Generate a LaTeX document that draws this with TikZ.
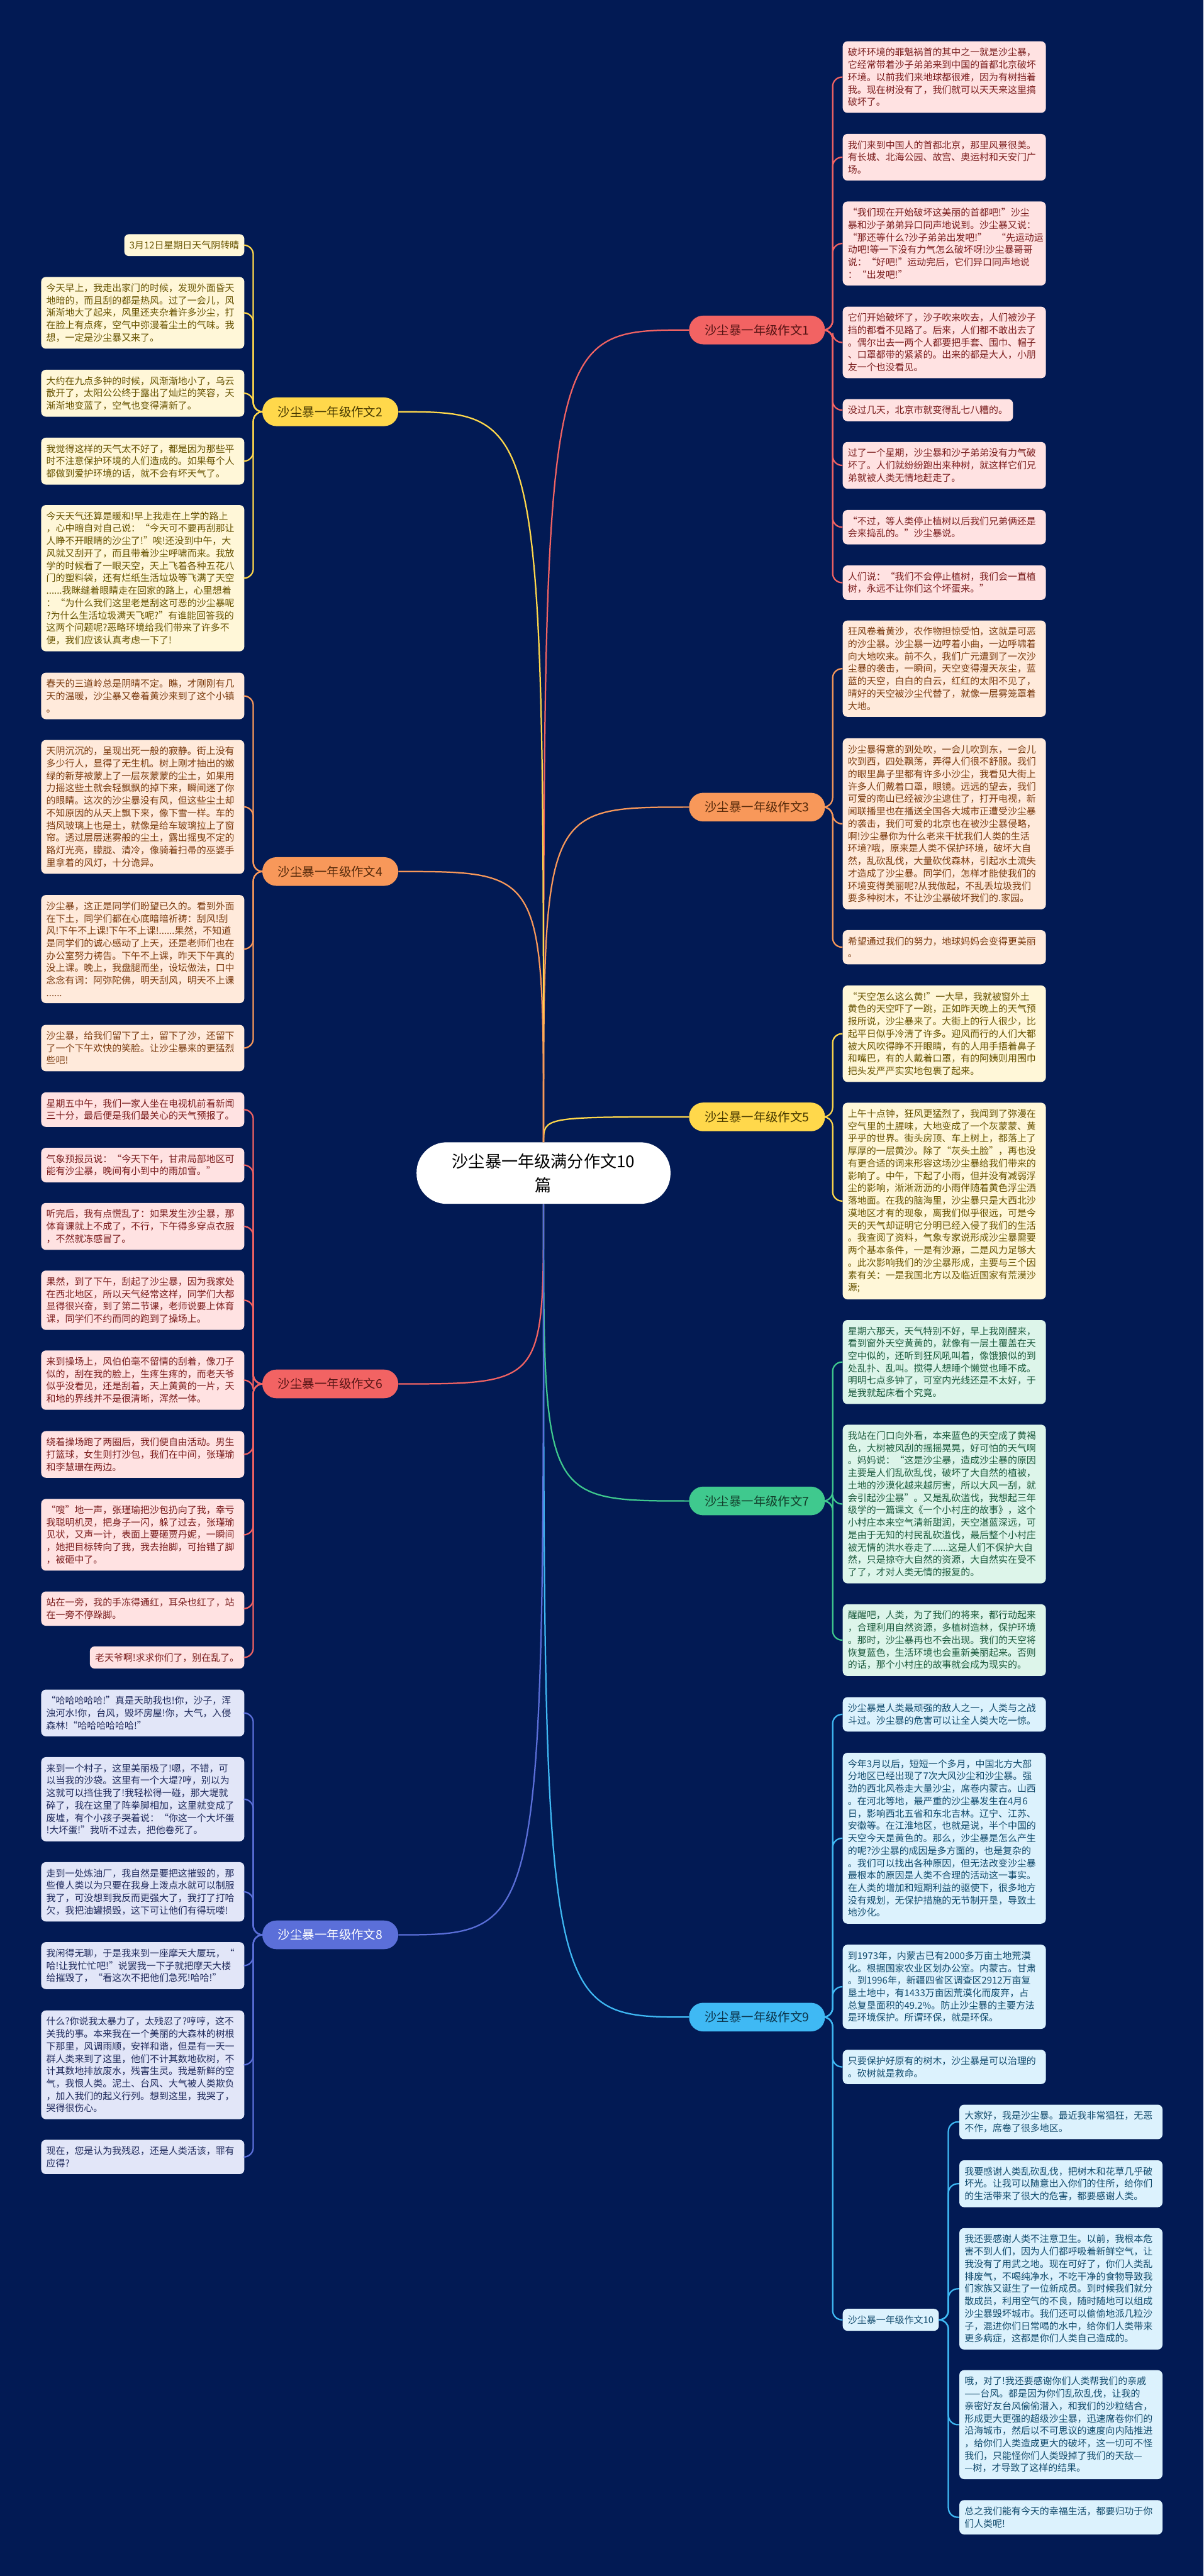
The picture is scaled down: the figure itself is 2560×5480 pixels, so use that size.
\documentclass[tikz,border=0pt]{standalone}
\usepackage{fontspec}
\newfontfamily\cjk{Noto Sans CJK SC}
\definecolor{bg}{HTML}{021A54}
\definecolor{redC}{HTML}{F26363}\definecolor{redL}{HTML}{FFE2E2}\definecolor{redT}{HTML}{7A1C1C}
\definecolor{yelC}{HTML}{FFD84B}\definecolor{yelL}{HTML}{FFF7D8}\definecolor{yelT}{HTML}{665200}
\definecolor{oraC}{HTML}{F8985A}\definecolor{oraL}{HTML}{FFEADB}\definecolor{oraT}{HTML}{7A3A0E}
\definecolor{grnC}{HTML}{3FC98E}\definecolor{grnL}{HTML}{DDF5EA}\definecolor{grnT}{HTML}{1B5A3D}
\definecolor{indC}{HTML}{5B6FD9}\definecolor{indL}{HTML}{E2E6F8}\definecolor{indT}{HTML}{1F2A5C}
\definecolor{bluC}{HTML}{3FB9F4}\definecolor{bluL}{HTML}{DCF2FD}\definecolor{bluT}{HTML}{104A6C}
\newcommand{\leaffont}{\cjk\fontsize{10pt}{13.2pt}\selectfont}
\tikzset{
 leaf/.style={rounded corners=5pt, inner xsep=5.5pt, inner ysep=7pt, align=left, font=\leaffont},
 wide/.style={text width=205pt},
 lr/.style={leaf, fill=redL, text=redT},
 ly/.style={leaf, fill=yelL, text=yelT},
 lo/.style={leaf, fill=oraL, text=oraT},
 lg/.style={leaf, fill=grnL, text=grnT},
 li/.style={leaf, fill=indL, text=indT},
 lb/.style={leaf, fill=bluL, text=bluT},
 topic/.style={rounded corners=15pt, minimum width=144.5pt, minimum height=30.5pt, inner sep=2pt,
   font=\cjk\fontsize{13pt}{15pt}\selectfont},
 conn/.style={line width=1.5pt, rounded corners=10pt},
 branch/.style={line width=1.5pt},
}
\begin{document}
\begin{tikzpicture}[x=0.5pt,y=-0.5pt]
\useasboundingbox (0,0) rectangle (2560,5480);
\fill[bg] (0,0) rectangle (2560,5480);

% root
\node[fill=white, rounded corners=32pt, minimum width=270pt, minimum height=65.5pt, align=center,
  font=\cjk\fontsize{17.5pt}{25.5pt}\selectfont, text=black] (root) at (1156,2495.5) {沙尘暴一年级满分作文10\\篇};

% topics right
\node[topic, fill=redC, text=redT!70!black] (e1) at (1610,702) {沙尘暴一年级作文1};
\node[topic, fill=oraC, text=oraT!70!black] (e3) at (1610,1717) {沙尘暴一年级作文3};
\node[topic, fill=yelC, text=yelT!70!black] (e5) at (1610,2376) {沙尘暴一年级作文5};
\node[topic, fill=grnC, text=grnT!70!black] (e7) at (1610,3193) {沙尘暴一年级作文7};
\node[topic, fill=bluC, text=bluT!70!black] (e9) at (1610,4291) {沙尘暴一年级作文9};
% topics left
\node[topic, fill=yelC, text=yelT!70!black] (e2) at (702.5,876) {沙尘暴一年级作文2};
\node[topic, fill=oraC, text=oraT!70!black] (e4) at (702.5,1854) {沙尘暴一年级作文4};
\node[topic, fill=redC, text=redT!70!black] (e6) at (702.5,2944) {沙尘暴一年级作文6};
\node[topic, fill=indC, text=white] (e8) at (702.5,4116) {沙尘暴一年级作文8};

% E1 leaves
\node[lr,wide,anchor=west] (a1) at (1792,164) {破坏环境的罪魁祸首的其中之一就是沙尘暴，\\它经常带着沙子弟弟来到中国的首都北京破坏\\环境。以前我们来地球都很难，因为有树挡着\\我。现在树没有了，我们就可以天天来这里搞\\破坏了。};
\node[lr,wide,anchor=west] (a2) at (1792,334.5) {我们来到中国人的首都北京，那里风景很美。\\有长城、北海公园、故宫、奥运村和天安门广\\场。};
\node[lr,wide,anchor=west] (a3) at (1792,518) {“我们现在开始破坏这美丽的首都吧!”沙尘\\暴和沙子弟弟异口同声地说到。沙尘暴又说：\\“那还等什么?沙子弟弟出发吧!”　“先运动运\\动吧!等一下没有力气怎么破坏呀!沙尘暴哥哥\\说：“好吧!”运动完后，它们异口同声地说\\：“出发吧!”};
\node[lr,wide,anchor=west] (a4) at (1792,728.5) {它们开始破坏了，沙子吹来吹去，人们被沙子\\挡的都看不见路了。后来，人们都不敢出去了\\。偶尔出去一两个人都要把手套、围巾、帽子\\、口罩都带的紧紧的。出来的都是大人，小朋\\友一个也没看见。};
\node[lr,anchor=west] (a5) at (1792,872.5) {没过几天，北京市就变得乱七八糟的。};
\node[lr,wide,anchor=west] (a6) at (1792,990) {过了一个星期，沙尘暴和沙子弟弟没有力气破\\坏了。人们就纷纷跑出来种树，就这样它们兄\\弟就被人类无情地赶走了。};
\node[lr,wide,anchor=west] (a7) at (1792,1121.5) {“不过，等人类停止植树以后我们兄弟俩还是\\会来捣乱的。”沙尘暴说。};
\node[lr,wide,anchor=west] (a8) at (1792,1239.5) {人们说：“我们不会停止植树，我们会一直植\\树，永远不让你们这个坏蛋来。”};

% E3 leaves
\node[lo,wide,anchor=west] (c1) at (1792,1422.5) {狂风卷着黄沙，农作物担惊受怕，这就是可恶\\的沙尘暴。沙尘暴一边哼着小曲，一边呼啸着\\向大地吹来。前不久，我们广元遭到了一次沙\\尘暴的袭击，一瞬间，天空变得漫天灰尘，蓝\\蓝的天空，白白的白云，红红的太阳不见了，\\晴好的天空被沙尘代替了，就像一层雾笼罩着\\大地。};
\node[lo,wide,anchor=west] (c2) at (1792,1752.5) {沙尘暴得意的到处吹，一会儿吹到东，一会儿\\吹到西，四处飘荡，弄得人们很不舒服。我们\\的眼里鼻子里都有许多小沙尘，我看见大街上\\许多人们戴着口罩，眼镜。远远的望去，我们\\可爱的南山已经被沙尘遮住了，打开电视，新\\闻联播里也在播送全国各大城市正遭受沙尘暴\\的袭击，我们可爱的北京也在被沙尘暴侵略，\\啊!沙尘暴你为什么老来干扰我们人类的生活\\环境?哦，原来是人类不保护环境，破坏大自\\然，乱砍乱伐，大量砍伐森林，引起水土流失\\才造成了沙尘暴。同学们，怎样才能使我们的\\环境变得美丽呢?从我做起，不乱丢垃圾我们\\要多种树木，不让沙尘暴破坏我们的.家园。};
\node[lo,wide,anchor=west] (c3) at (1792,2015) {希望通过我们的努力，地球妈妈会变得更美丽\\。};

% E5 leaves
\node[ly,wide,anchor=west] (f1) at (1792,2199) {“天空怎么这么黄!”一大早，我就被窗外土\\黄色的天空吓了一跳，正如昨天晚上的天气预\\报所说，沙尘暴来了。大街上的行人很少，比\\起平日似乎冷清了许多。迎风而行的人们大都\\被大风吹得睁不开眼睛，有的人用手捂着鼻子\\和嘴巴，有的人戴着口罩，有的阿姨则用围巾\\把头发严严实实地包裹了起来。};
\node[ly,wide,anchor=west] (f2) at (1792,2555) {上午十点钟，狂风更猛烈了，我闻到了弥漫在\\空气里的土腥味，大地变成了一个灰蒙蒙、黄\\乎乎的世界。街头房顶、车上树上，都落上了\\厚厚的一层黄沙。除了“灰头土脸”，再也没\\有更合适的词来形容这场沙尘暴给我们带来的\\影响了。中午，下起了小雨，但并没有减弱浮\\尘的影响，淅淅沥沥的小雨伴随着黄色浮尘洒\\落地面。在我的脑海里，沙尘暴只是大西北沙\\漠地区才有的现象，离我们似乎很远，可是今\\天的天气却证明它分明已经入侵了我们的生活\\。我查阅了资料，气象专家说形成沙尘暴需要\\两个基本条件，一是有沙源，二是风力足够大\\。此次影响我们的沙尘暴形成，主要与三个因\\素有关：一是我国北方以及临近国家有荒漠沙\\源;};

% E7 leaves
\node[lg,wide,anchor=west] (g1) at (1792,2897.5) {星期六那天，天气特别不好，早上我刚醒来，\\看到窗外天空黄黄的，就像有一层土覆盖在天\\空中似的，还听到狂风吼叫着，像饿狼似的到\\处乱扑、乱叫。搅得人想睡个懒觉也睡不成。\\明明七点多钟了，可室内光线还是不太好，于\\是我就起床看个究竟。};
\node[lg,wide,anchor=west] (g2) at (1792,3199.5) {我站在门口向外看，本来蓝色的天空成了黄褐\\色，大树被风刮的摇摇晃晃，好可怕的天气啊\\。妈妈说：“这是沙尘暴，造成沙尘暴的原因\\主要是人们乱砍乱伐，破坏了大自然的植被，\\土地的沙漠化越来越厉害，所以大风一刮，就\\会引起沙尘暴”。又是乱砍滥伐，我想起三年\\级学的一篇课文《一个小村庄的故事》，这个\\小村庄本来空气清新甜润，天空湛蓝深远，可\\是由于无知的村民乱砍滥伐，最后整个小村庄\\被无情的洪水卷走了......这是人们不保护大自\\然，只是掠夺大自然的资源，大自然实在受不\\了了，才对人类无情的报复的。};
\node[lg,wide,anchor=west] (g3) at (1792,3489) {醒醒吧，人类，为了我们的将来，都行动起来\\，合理利用自然资源，多植树造林，保护环境\\。那时，沙尘暴再也不会出现。我们的天空将\\恢复蓝色，生活环境也会重新美丽起来。否则\\的话，那个小村庄的故事就会成为现实的。};

% E9 leaves
\node[lb,wide,anchor=west] (i1) at (1792,3647) {沙尘暴是人类最顽强的敌人之一，人类与之战\\斗过。沙尘暴的危害可以让全人类大吃一惊。};
\node[lb,wide,anchor=west] (i2) at (1792,3910.5) {今年3月以后，短短一个多月，中国北方大部\\分地区已经出现了7次大风沙尘和沙尘暴。强\\劲的西北风卷走大量沙尘，席卷内蒙古。山西\\。在河北等地，最严重的沙尘暴发生在4月6\\日，影响西北五省和东北吉林。辽宁、江苏、\\安徽等。在江淮地区，也就是说，半个中国的\\天空今天是黄色的。那么，沙尘暴是怎么产生\\的呢?沙尘暴的成因是多方面的，也是复杂的\\。我们可以找出各种原因，但无法改变沙尘暴\\最根本的原因是人类不合理的活动这一事实。\\在人类的增加和短期利益的驱使下，很多地方\\没有规划，无保护措施的无节制开垦，导致土\\地沙化。};
\node[lb,wide,anchor=west] (i3) at (1792,4226.5) {到1973年，内蒙古已有2000多万亩土地荒漠\\化。根据国家农业区划办公室。内蒙古。甘肃\\。到1996年，新疆四省区调查区2912万亩复\\垦土地中，有1433万亩因荒漠化而废弃，占\\总复垦面积的49.2\%。防止沙尘暴的主要方法\\是环境保护。所谓环保，就是环保。};
\node[lb,wide,anchor=west] (i4) at (1792,4397) {只要保护好原有的树木，沙尘暴是可以治理的\\。砍树就是救命。};
\node[lb,anchor=west] (e10) at (1792,4935) {沙尘暴一年级作文10};

% E10 leaves
\node[lb,wide,anchor=west] (t1) at (2040,4514) {大家好，我是沙尘暴。最近我非常猖狂，无恶\\不作，席卷了很多地区。};
\node[lb,wide,anchor=west] (t2) at (2040,4645.5) {我要感谢人类乱砍乱伐，把树木和花草几乎破\\坏光。让我可以随意出入你们的住所，给你们\\的生活带来了很大的危害，都要感谢人类。};
\node[lb,wide,anchor=west] (t3) at (2040,4869) {我还要感谢人类不注意卫生。以前，我根本危\\害不到人们，因为人们都呼吸着新鲜空气，让\\我没有了用武之地。现在可好了，你们人类乱\\排废气，不喝纯净水，不吃干净的食物导致我\\们家族又诞生了一位新成员。到时候我们就分\\散成员，利用空气的不良，随时随地可以组成\\沙尘暴毁坏城市。我们还可以偷偷地派几粒沙\\子，混进你们日常喝的水中，给你们人类带来\\更多病症，这都是你们人类自己造成的。};
\node[lb,wide,anchor=west] (t4) at (2040,5158) {哦，对了!我还要感谢你们人类帮我们的亲戚\\——台风。都是因为你们乱砍乱伐，让我的\\亲密好友台风偷偷潜入，和我们的沙粒结合，\\形成更大更强的超级沙尘暴，迅速席卷你们的\\沿海城市，然后以不可思议的速度向内陆推进\\，给你们人类造成更大的破坏，这一切可不怪\\我们，只能怪你们人类毁掉了我们的天敌—\\—树，才导致了这样的结果。};
\node[lb,wide,anchor=west] (t5) at (2040,5355) {总之我们能有今天的幸福生活，都要归功于你\\们人类呢!};

% E2 leaves
\node[ly,anchor=east] (b1) at (520,521.5) {3月12日星期日天气阴转晴};
\node[ly,wide,anchor=east] (b2) at (520,665.5) {今天早上，我走出家门的时候，发现外面昏天\\地暗的，而且刮的都是热风。过了一会儿，风\\渐渐地大了起来，风里还夹杂着许多沙尘，打\\在脸上有点疼，空气中弥漫着尘土的气味。我\\想，一定是沙尘暴又来了。};
\node[ly,wide,anchor=east] (b3) at (520,836.5) {大约在九点多钟的时候，风渐渐地小了，乌云\\散开了，太阳公公终于露出了灿烂的笑容，天\\渐渐地变蓝了，空气也变得清新了。};
\node[ly,wide,anchor=east] (b4) at (520,981) {我觉得这样的天气太不好了，都是因为那些平\\时不注意保护环境的人们造成的。如果每个人\\都做到爱护环境的话，就不会有坏天气了。};
\node[ly,wide,anchor=east] (b5) at (520,1230) {今天天气还算是暖和!早上我走在上学的路上\\，心中暗自对自己说：“今天可不要再刮那让\\人睁不开眼睛的沙尘了!”唉!还没到中午，大\\风就又刮开了，而且带着沙尘呼啸而来。我放\\学的时候看了一眼天空，天上飞着各种五花八\\门的塑料袋，还有烂纸生活垃圾等飞满了天空\\......我眯缝着眼睛走在回家的路上，心里想着\\：“为什么我们这里老是刮这可恶的沙尘暴呢\\?为什么生活垃圾满天飞呢?”有谁能回答我的\\这两个问题呢?恶略环境给我们带来了许多不\\便，我们应该认真考虑一下了!};

% E4 leaves
\node[lo,wide,anchor=east] (d1) at (520,1480.5) {春天的三道岭总是阴晴不定。瞧，才刚刚有几\\天的温暖，沙尘暴又卷着黄沙来到了这个小镇\\。};
\node[lo,wide,anchor=east] (d2) at (520,1716.5) {天阴沉沉的，呈现出死一般的寂静。街上没有\\多少行人，显得了无生机。树上刚才抽出的嫩\\绿的新芽被蒙上了一层灰蒙蒙的尘土，如果用\\力摇这些土就会轻飘飘的掉下来，瞬间迷了你\\的眼睛。这次的沙尘暴没有风，但这些尘土却\\不知原因的从天上飘下来，像下雪一样。车的\\挡风玻璃上也是土，就像是给车玻璃拉上了窗\\帘。透过层层迷雾般的尘土，露出摇曳不定的\\路灯光亮，朦胧、清冷，像骑着扫帚的巫婆手\\里拿着的风灯，十分诡异。};
\node[lo,wide,anchor=east] (d3) at (520,2019) {沙尘暴，这正是同学们盼望已久的。看到外面\\在下土，同学们都在心底暗暗祈祷：刮风!刮\\风!下午不上课!下午不上课!......果然，不知道\\是同学们的诚心感动了上天，还是老师们也在\\办公室努力祷告。下午不上课，昨天下午真的\\没上课。晚上，我盘腿而坐，设坛做法，口中\\念念有词：阿弥陀佛，明天刮风，明天不上课\\......};
\node[lo,wide,anchor=east] (d4) at (520,2229.5) {沙尘暴，给我们留下了土，留下了沙，还留下\\了一个下午欢快的笑脸。让沙尘暴来的更猛烈\\些吧!};

% E6 leaves
\node[lr,wide,anchor=east] (h1) at (520,2360.5) {星期五中午，我们一家人坐在电视机前看新闻\\三十分，最后便是我们最关心的天气预报了。};
\node[lr,wide,anchor=east] (h2) at (520,2478.5) {气象预报员说：“今天下午，甘肃局部地区可\\能有沙尘暴，晚间有小到中的雨加雪。”};
\node[lr,wide,anchor=east] (h3) at (520,2609) {听完后，我有点慌乱了：如果发生沙尘暴，那\\体育课就上不成了，不行，下午得多穿点衣服\\，不然就冻感冒了。};
\node[lr,wide,anchor=east] (h4) at (520,2766) {果然，到了下午，刮起了沙尘暴，因为我家处\\在西北地区，所以天气经常这样，同学们大都\\显得很兴奋，到了第二节课，老师说要上体育\\课，同学们不约而同的跑到了操场上。};
\node[lr,wide,anchor=east] (h5) at (520,2936) {来到操场上，风伯伯毫不留情的刮着，像刀子\\似的，刮在我的脸上，生疼生疼的，而老天爷\\似乎没看见，还是刮着，天上黄黄的一片，天\\和地的界线并不是很清晰，浑然一体。};
\node[lr,wide,anchor=east] (h6) at (520,3094) {绕着操场跑了两圈后，我们便自由活动。男生\\打篮球，女生则打沙包，我们在中间，张瑾瑜\\和李慧珊在两边。};
\node[lr,wide,anchor=east] (h7) at (520,3265) {“嗖”地一声，张瑾瑜把沙包扔向了我，幸亏\\我聪明机灵，把身子一闪，躲了过去，张瑾瑜\\见状，又声一计，表面上要砸贾丹妮，一瞬间\\，她把目标转向了我，我去抬脚，可抬错了脚\\，被砸中了。};
\node[lr,wide,anchor=east] (h8) at (520,3422) {站在一旁，我的手冻得通红，耳朵也红了，站\\在一旁不停跺脚。};
\node[lr,anchor=east] (h9) at (520,3526) {老天爷啊!求求你们了，别在乱了。};

% E8 leaves
\node[li,wide,anchor=east] (k1) at (520,3644) {“哈哈哈哈哈!”真是天助我也!你，沙子，浑\\浊河水!你，台风，毁坏房屋!你，大气，入侵\\森林!“哈哈哈哈哈哈!”};
\node[li,wide,anchor=east] (k2) at (520,3827.5) {来到一个村子，这里美丽极了!嗯，不错，可\\以当我的沙袋。这里有一个大堤?哼，别以为\\这就可以挡住我了!我轻松得一碰，那大堤就\\碎了，我在这里了阵拳脚相加，这里就变成了\\废墟，有个小孩子哭着说：“你这一个大坏蛋\\!大坏蛋!”我听不过去，把他卷死了。};
\node[li,wide,anchor=east] (k3) at (520,4024.5) {走到一处炼油厂，我自然是要把这摧毁的，那\\些傻人类以为只要在我身上泼点水就可以制服\\我了，可没想到我反而更强大了，我打了打哈\\欠，我把油罐损毁，这下可让他们有得玩喽!};
\node[li,wide,anchor=east] (k4) at (520,4181.5) {我闲得无聊，于是我来到一座摩天大厦玩，“\\哈!让我忙忙吧!”说罢我一下子就把摩天大楼\\给摧毁了，“看这次不把他们急死!哈哈!”};
\node[li,wide,anchor=east] (k5) at (520,4392.5) {什么?你说我太暴力了，太残忍了?哼哼，这不\\关我的事。本来我在一个美丽的大森林的树根\\下那里，风调雨顺，安祥和谐，但是有一天一\\群人类来到了这里，他们不计其数地砍树，不\\计其数地排放废水，残害生灵。我是新鲜的空\\气，我恨人类。泥土、台风、大气被人类欺负\\，加入我们的起义行列。想到这里，我哭了，\\哭得很伤心。};
\node[li,wide,anchor=east] (k6) at (520,4588.5) {现在，您是认为我残忍，还是人类活该，罪有\\应得?};

% branch curves
\draw[branch,redC] (root.north) .. controls (root.north |- e1.west) .. (e1.west);
\draw[branch,oraC] (root.north) .. controls (root.north |- e3.west) .. (e3.west);
\draw[branch,yelC] (root.north) .. controls (root.north |- e5.west) .. (e5.west);
\draw[branch,grnC] (root.south) .. controls (root.south |- e7.west) .. (e7.west);
\draw[branch,bluC] (root.south) .. controls (root.south |- e9.west) .. (e9.west);
\draw[branch,yelC] (root.north) .. controls (root.north |- e2.east) .. (e2.east);
\draw[branch,oraC] (root.north) .. controls (root.north |- e4.east) .. (e4.east);
\draw[branch,redC] (root.south) .. controls (root.south |- e6.east) .. (e6.east);
\draw[branch,indC] (root.south) .. controls (root.south |- e8.east) .. (e8.east);

% leaf connectors right
\foreach \n in {a1,a2,a3,a4,a5,a6,a7,a8} \draw[conn,redC] (e1.east) -- ++(16,0) |- (\n.west);
\foreach \n in {c1,c2,c3} \draw[conn,oraC] (e3.east) -- ++(16,0) |- (\n.west);
\foreach \n in {f1,f2} \draw[conn,yelC] (e5.east) -- ++(16,0) |- (\n.west);
\foreach \n in {g1,g2,g3} \draw[conn,grnC] (e7.east) -- ++(16,0) |- (\n.west);
\foreach \n in {i1,i2,i3,i4,e10} \draw[conn,bluC] (e9.east) -- ++(16,0) |- (\n.west);
\foreach \n in {t1,t2,t3,t4,t5} \draw[conn,bluC] (e10.east) -- ++(20,0) |- (\n.west);
% leaf connectors left
\foreach \n in {b1,b2,b3,b4,b5} \draw[conn,yelC] (e2.west) -- ++(-19,0) |- (\n.east);
\foreach \n in {d1,d2,d3,d4} \draw[conn,oraC] (e4.west) -- ++(-19,0) |- (\n.east);
\foreach \n in {h1,h2,h3,h4,h5,h6,h7,h8,h9} \draw[conn,redC] (e6.west) -- ++(-19,0) |- (\n.east);
\foreach \n in {k1,k2,k3,k4,k5,k6} \draw[conn,indC] (e8.west) -- ++(-19,0) |- (\n.east);
\end{tikzpicture}
\end{document}
